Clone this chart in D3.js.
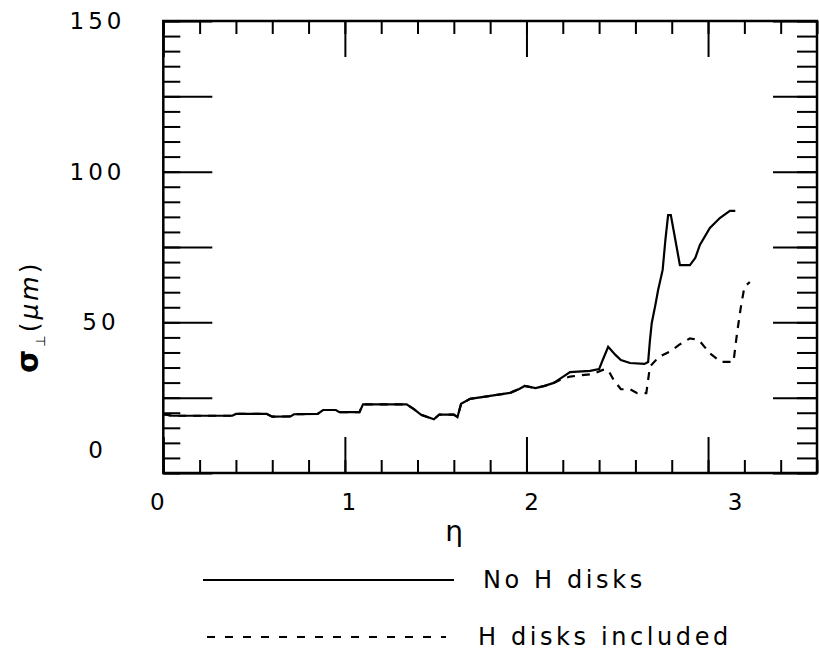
<!DOCTYPE html>
<html>
<head>
<meta charset="utf-8">
<script src="https://cdn.jsdelivr.net/npm/d3@7"></script>
<style>
  body { margin: 0; background: #fff; }
  text { font-family: "DejaVu Sans", sans-serif; fill: #000; }
</style>
</head>
<body>
<svg id="chart" width="819" height="651"></svg>
<script>
// Transverse resolution versus pseudorapidity
const etaNoDisks = [0.00, 0.05, 0.38, 0.40, 0.57, 0.60, 0.70, 0.72, 0.85, 0.88, 0.95, 0.97, 1.08, 1.10, 1.34, 1.38, 1.42, 1.49, 1.52, 1.60, 1.62, 1.64, 1.69, 1.80, 1.91, 1.96, 1.99, 2.05, 2.10, 2.15, 2.19, 2.24, 2.35, 2.40,
  2.42, 2.45, 2.49, 2.52, 2.57, 2.65, 2.67, 2.68, 2.69, 2.71, 2.725, 2.75, 2.765, 2.78, 2.795, 2.82, 2.845, 2.90, 2.93, 2.955, 3.01, 3.065, 3.12, 3.15];
const sigmaNoDisks = [19.5, 19.0, 19.0, 19.6, 19.6, 18.7, 18.8, 19.5, 19.6, 20.9, 20.9, 20.2, 20.2, 22.8, 22.8, 21.2, 19.3, 17.8, 19.4, 19.4, 18.5, 23.0, 24.6, 25.6, 26.6, 27.9, 28.9, 28.2, 28.9, 29.9, 31.5, 33.5, 33.9, 34.5,
  37.5, 41.9, 39.2, 37.5, 36.5, 36.2, 36.8, 44.0, 49.8, 55.8, 60.7, 67.4, 77.3, 85.6, 85.6, 77.3, 69.0, 69.0, 71.4, 75.7, 81.3, 84.6, 87.0, 87.0];

const etaWithDisks = [0.00, 0.05, 0.38, 0.40, 0.57, 0.60, 0.70, 0.72, 0.85, 0.88, 0.95, 0.97, 1.08, 1.10, 1.34, 1.38, 1.42, 1.49, 1.52, 1.60, 1.62, 1.64, 1.69, 1.80, 1.91, 1.96, 1.99, 2.05, 2.10, 2.15, 2.19,
  2.24, 2.37, 2.42, 2.45, 2.48, 2.52, 2.57, 2.61, 2.66, 2.68, 2.73, 2.79, 2.84, 2.90, 2.95, 3.01, 3.07, 3.14, 3.16, 3.18, 3.20, 3.23];
const sigmaWithDisks = [19.5, 19.0, 19.0, 19.6, 19.6, 18.7, 18.8, 19.5, 19.6, 20.9, 20.9, 20.2, 20.2, 22.8, 22.8, 21.2, 19.3, 17.8, 19.4, 19.4, 18.5, 23.0, 24.6, 25.6, 26.6, 27.9, 28.9, 28.2, 28.9, 29.9, 31.0,
  32.0, 32.9, 34.2, 34.2, 30.9, 27.8, 27.8, 26.5, 26.5, 35.3, 38.6, 40.3, 42.5, 44.7, 44.1, 39.7, 36.9, 36.9, 46.5, 54.8, 61.7, 63.4];

const xTickValues = [0, 1, 2, 3];
const xTickLabels = ["0", "1", "2", "3"];
const yTickValues = [0, 50, 100, 150];
const yTickLabels = ["0", "50", "100", "150"];
const seriesNames = ["No H disks", "H disks included"];

const svg = d3.select("#chart");
const x = d3.scaleLinear().domain([0, 3.6]).range([163.3, 817]);
const y = d3.scaleLinear().domain([0, 150]).range([473, 21]);

const xMinor = d3.range(0, 3.61, 0.2).map(v => +v.toFixed(1));
const xMajor = d3.range(0, 3.61, 1);
const yMinor = d3.range(0, 151, 5);
const yMajor = d3.range(0, 151, 25);

function tickLayer(axis, transform) {
  const g = svg.append("g").attr("transform", transform).call(axis);
  g.select(".domain").remove();
  g.selectAll(".tick line").attr("stroke", "#000").attr("stroke-width", 2);
  g.selectAll(".tick text").remove();
  return g;
}

// ticks on all four sides, pointing into the plot
tickLayer(d3.axisBottom(x).tickValues(xMinor).tickSize(-13).tickFormat(""), `translate(0,${y(0)})`);
tickLayer(d3.axisBottom(x).tickValues(xMajor).tickSize(-36).tickFormat(""), `translate(0,${y(0)})`);
tickLayer(d3.axisTop(x).tickValues(xMinor).tickSize(-13).tickFormat(""), `translate(0,${y(150)})`);
tickLayer(d3.axisTop(x).tickValues(xMajor).tickSize(-36).tickFormat(""), `translate(0,${y(150)})`);
tickLayer(d3.axisLeft(y).tickValues(yMinor).tickSize(-17).tickFormat(""), `translate(${x(0)},0)`);
tickLayer(d3.axisLeft(y).tickValues(yMajor).tickSize(-49).tickFormat(""), `translate(${x(0)},0)`);
tickLayer(d3.axisRight(y).tickValues(yMinor).tickSize(-20).tickFormat(""), `translate(${x(3.6)},0)`);
tickLayer(d3.axisRight(y).tickValues(yMajor).tickSize(-44).tickFormat(""), `translate(${x(3.6)},0)`);

// frame
svg.append("rect")
  .attr("x", x(0)).attr("y", y(150))
  .attr("width", x(3.6) - x(0)).attr("height", y(0) - y(150))
  .attr("fill", "none").attr("stroke", "#000").attr("stroke-width", 2.5);

// tick labels
const lsp = 4;
const xLabelShift = [-6, 4, 5, 27];
svg.selectAll(".xlab").data(xTickValues).join("text")
  .attr("class", "xlab")
  .attr("x", (d, i) => x(d) + xLabelShift[i] + lsp / 2)
  .attr("y", 510)
  .attr("text-anchor", "middle")
  .attr("font-size", 23)
  .attr("letter-spacing", lsp)
  .text((d, i) => xTickLabels[i]);

const yLabelShift = [-23, 0, 0, 0];
svg.selectAll(".ylab").data(yTickValues).join("text")
  .attr("class", "ylab")
  .attr("x", (d, i) => (i === 1 ? 99 : 95.5) + lsp / 2)
  .attr("y", (d, i) => y(d) + yLabelShift[i] + 8)
  .attr("text-anchor", "middle")
  .attr("font-size", 23)
  .attr("letter-spacing", lsp)
  .text((d, i) => yTickLabels[i]);

// axis titles
svg.append("text")
  .attr("x", 454).attr("y", 541)
  .attr("text-anchor", "middle")
  .attr("font-size", 28)
  .text("η");

const yTitle = svg.append("text")
  .attr("transform", "translate(38,373) rotate(-90)")
  .attr("letter-spacing", 3);
yTitle.append("tspan").attr("font-size", 30).attr("font-weight", "bold").text("σ");
yTitle.append("tspan").attr("font-size", 13).attr("dy", 7).text("⊥");
yTitle.append("tspan").attr("font-size", 25).attr("dy", -7).text("(");
yTitle.append("tspan").attr("font-size", 25).attr("font-style", "italic").text("μm");
yTitle.append("tspan").attr("font-size", 25).text(")");

// curves
const line = d3.line().x(d => x(d[0])).y(d => y(d[1]));
const solidPts = etaNoDisks.map((e, i) => [e, sigmaNoDisks[i]]);
const dashedPts = etaWithDisks.map((e, i) => [e, sigmaWithDisks[i]]);

svg.append("path").datum(dashedPts)
  .attr("d", line).attr("fill", "none")
  .attr("stroke", "#000").attr("stroke-width", 2.2)
  .attr("stroke-dasharray", "8,7");
svg.append("path").datum(solidPts)
  .attr("d", line).attr("fill", "none")
  .attr("stroke", "#000").attr("stroke-width", 2.2);

// legend
const legend = svg.append("g");
legend.append("line").attr("x1", 203).attr("x2", 454).attr("y1", 580).attr("y2", 580)
  .attr("stroke", "#000").attr("stroke-width", 2);
legend.append("line").attr("x1", 207).attr("x2", 446).attr("y1", 637).attr("y2", 637)
  .attr("stroke", "#000").attr("stroke-width", 2).attr("stroke-dasharray", "8,10");
legend.append("text").attr("x", 483).attr("y", 588)
  .attr("font-size", 24).attr("letter-spacing", 3.6).text(seriesNames[0]);
legend.append("text").attr("x", 478).attr("y", 645)
  .attr("font-size", 24).attr("letter-spacing", 3.6).text(seriesNames[1]);
</script>
</body>
</html>
